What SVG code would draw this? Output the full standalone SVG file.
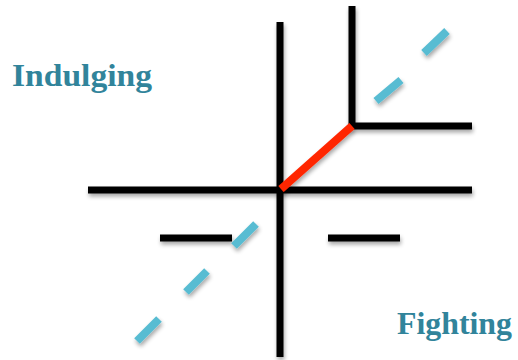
<svg xmlns="http://www.w3.org/2000/svg" width="518" height="360" viewBox="0 0 518 360">
<defs>
<filter id="sh" filterUnits="userSpaceOnUse" x="0" y="0" width="518" height="360">
<feGaussianBlur in="SourceAlpha" stdDeviation="2"/>
<feOffset dx="1" dy="3" result="b"/>
<feComponentTransfer><feFuncA type="linear" slope="0.35"/></feComponentTransfer>
<feMerge><feMergeNode/><feMergeNode in="SourceGraphic"/></feMerge>
</filter>
<style>
.k{stroke:#000;stroke-width:7;fill:none;filter:url(#sh)}
.r{stroke:#FF2600;stroke-width:8;fill:none;filter:url(#sh)}
.d{stroke:#58BCD2;stroke-width:8;fill:none;filter:url(#sh)}
.t{font-family:"Liberation Serif",serif;font-weight:bold;font-size:32px;fill:#31849B}
</style>
</defs>
<rect width="518" height="360" fill="#fff"/>
<g id="connectors">
<line class="k" x1="88" y1="190" x2="472" y2="190"/>
<line class="k" x1="280" y1="22" x2="280" y2="357"/>
<polyline class="k" points="352,6 352,126 472,126"/>
<line class="k" x1="160" y1="238" x2="232" y2="238"/>
<line class="k" x1="328" y1="238" x2="400" y2="238"/>
<line class="r" x1="281" y1="189" x2="352" y2="126"/>
<g id="dashes">
<line class="d" x1="137" y1="341" x2="159" y2="319"/>
<line class="d" x1="186" y1="292" x2="207" y2="271"/>
<line class="d" x1="234" y1="246" x2="256" y2="224"/>
<line class="d" x1="376" y1="101" x2="401" y2="80"/>
<line class="d" x1="424" y1="53" x2="447" y2="31"/>
</g>
</g>
<g id="indulging"><text class="t" x="12" y="86" textLength="140" lengthAdjust="spacingAndGlyphs">Indulging</text></g>
<g id="fighting"><text class="t" x="397" y="334" textLength="115" lengthAdjust="spacingAndGlyphs">Fighting</text></g>
</svg>
